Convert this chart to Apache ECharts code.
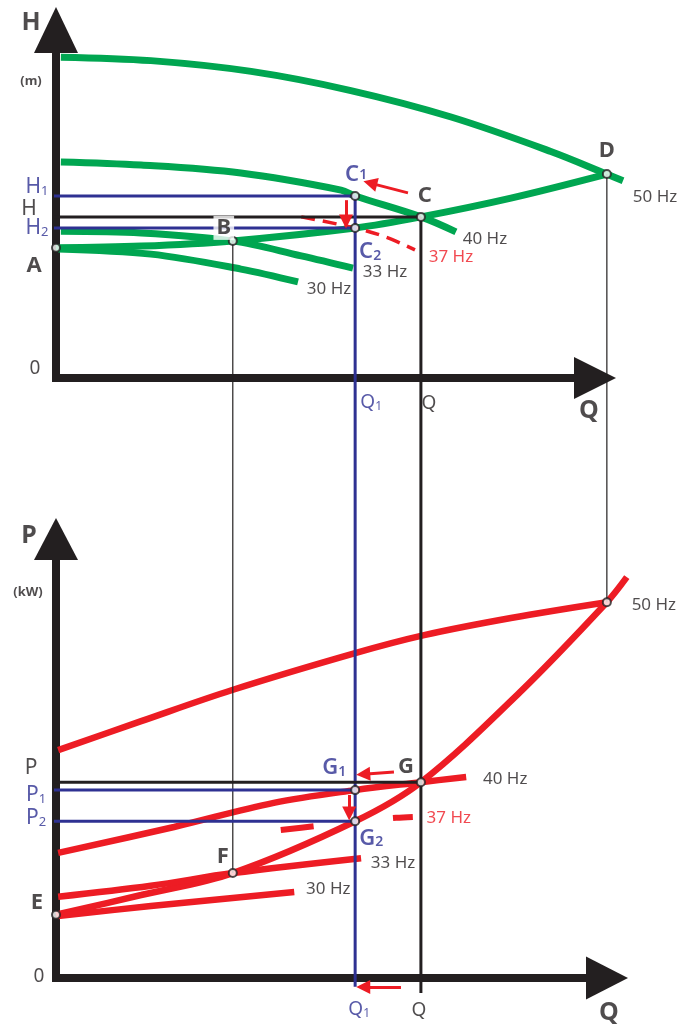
<!DOCTYPE html>
<html>
<head>
<meta charset="utf-8">
<title>Pump curves at variable speed</title>
<script src="https://cdn.jsdelivr.net/npm/echarts@6/dist/echarts.min.js"></script>
<style>
  html, body { margin: 0; padding: 0; background: #fff; }
  #main { width: 682px; height: 1027px; }
</style>
</head>
<body>
<div id="main"></div>
<script>
// Q-H curves (top) and Q-P curves (bottom) of one pump at 50/40/37/33/30 Hz.
// No scale on the original, so Q, H and P all run 0..100 along their axis.
var GREEN = '#00a651', RED = '#ed1c24', BLUE = '#2e3192', INK = '#231f20';
var FONT = 'Noto Sans';

// ---- top chart, head H ----
var head50 = [[0.9, 92.2], [17.6, 91.2], [36.2, 88.1], [54.7, 82.6], [73.3, 75.0], [91.8, 65.1], [102.2, 58.6], [105.2, 56.7]];
var head40 = [[0.9, 62.1], [15.8, 61.2], [34.3, 58.9], [52.9, 54.0], [55.5, 52.3], [67.7, 46.3], [74.2, 42.0]];
var head37 = [[45.5, 46.3], [55.5, 43.1], [61.2, 40.5], [66.6, 36.8]];
var head33 = [[0.9, 42.2], [15.8, 41.7], [32.8, 39.4], [45.5, 35.1], [55.1, 31.6]];
var head30 = [[0.4, 37.1], [17.6, 35.6], [34.3, 31.3], [44.9, 27.6]];
var system = [[0, 37.4], [15.8, 37.9], [32.8, 39.4], [55.5, 43.1], [67.7, 46.3], [84.4, 51.7], [102.2, 58.6]];

// ---- bottom chart, power P ----
var power50 = [[0.4, 51.9], [15.8, 58.5], [32.7, 65.6], [55.5, 74.0], [68.3, 78.1], [84.4, 82.0], [102.2, 85.6]];
var powerSys = [[0, 14.4], [15.8, 18.9], [32.8, 23.9], [55.5, 35.7], [67.7, 44.6], [85.9, 64.9], [102.2, 85.6], [105.9, 91.3]];
var power40 = [[0.4, 28.5], [21.9, 34.4], [40.4, 39.9], [55.5, 42.8], [67.7, 44.6], [76.1, 45.8]];
var power37 = [[41.7, 33.7], [47.9, 34.6], [55.5, 35.7], [63.1, 36.5], [66.2, 36.7]];
var power33 = [[0.4, 18.5], [17.6, 21.0], [32.8, 23.9], [56.6, 27.3]];
var power30 = [[0.4, 14.1], [17.6, 16.4], [44.2, 19.6]];

// flows of the guide lines, head levels, power levels
var Q1 = 55.5, Qop = 67.7, QB = 32.8, QD = 102.2;
var H1 = 52.3, Hop = 46.3, H2 = 43.1;
var Pop = 44.6, P1 = 42.8, P2 = 35.7;

// marked points
var ptA = [0, 37.4], ptB = [QB, 39.4], ptC1 = [Q1, H1], ptC = [Qop, Hop], ptC2 = [Q1, H2], ptD = [QD, 58.6];
var ptE = [0, 14.4], ptF = [QB, 23.9], ptG1 = [Q1, P1], ptG = [Qop, Pop], ptG2 = [Q1, P2], pt50 = [QD, 85.6];

// the top Q axis expressed on the bottom P scale (guides run up to it)
var TOP_AXIS_P = 136.7;

// red arrows
var arrowsTop = [[[65.3, 53.2], [58.3, 56.0]], [[53.8, 51.1], [53.8, 45.0]]];
var arrowsBottom = [[[62.7, 46.9], [57.0, 46.4]], [[54.4, 41.7], [54.4, 37.5]], [[64.0, -2.05], [57.0, -2.05]]];

// curves run a bit past the arrow end of the Q axis, so they sit in a
// wider plot grid (Q up to 110) laid over the grid that draws the axes
var AXIS_W = 539, PLOT_QMAX = 110;

function last(a) { return a[a.length - 1]; }

var RICH = {
  tt: { fontFamily: FONT, fontSize: 25, fontWeight: 'bold', color: INK },
  un: { fontFamily: FONT, fontSize: 13, fontWeight: 'bold', color: INK },
  nu: { fontFamily: FONT, fontSize: 19, color: INK },
  dk: { fontFamily: FONT, fontSize: 22, fontWeight: 'bold', color: INK },
  lv: { fontFamily: FONT, fontSize: 21, color: INK },
  bl: { fontFamily: FONT, fontSize: 21, color: BLUE },
  bls: { fontFamily: FONT, fontSize: 13, color: BLUE, verticalAlign: 'bottom' },
  bv: { fontFamily: FONT, fontSize: 22, fontWeight: 600, color: BLUE },
  bvs: { fontFamily: FONT, fontSize: 14, fontWeight: 600, color: BLUE, verticalAlign: 'bottom' },
  bvm: { fontFamily: FONT, fontSize: 14, fontWeight: 600, color: BLUE },
  hz: { fontFamily: FONT, fontSize: 17, color: INK },
  hr: { fontFamily: FONT, fontSize: 17, color: RED },
  qq: { fontFamily: FONT, fontSize: 19, color: INK },
  qb: { fontFamily: FONT, fontSize: 19, color: BLUE },
  qbs: { fontFamily: FONT, fontSize: 12, color: BLUE, verticalAlign: 'bottom' }
};

function curve(grid, data, color, width, dash) {
  return {
    type: 'line', xAxisIndex: grid, yAxisIndex: grid, data: data,
    smooth: 0.35, symbol: 'none', showSymbol: false, clip: false, silent: true, z: 2,
    lineStyle: { color: color, width: width, type: dash || 'solid' }
  };
}

function seg(grid, a, b, color, width) {
  return {
    type: 'line', xAxisIndex: grid, yAxisIndex: grid, data: [a, b],
    symbol: 'none', showSymbol: false, clip: false, silent: true, z: 3,
    lineStyle: { color: color, width: width }
  };
}

function arrows(grid, list) {
  return {
    type: 'lines', coordinateSystem: 'cartesian2d', xAxisIndex: grid, yAxisIndex: grid,
    clip: false, silent: true, z: 4,
    symbol: ['none', 'triangle'], symbolSize: [12, 14],
    lineStyle: { color: RED, width: 3, opacity: 1 },
    data: list.map(function (c) { return { coords: c }; })
  };
}

function markers(grid, pts) {
  return {
    type: 'scatter', xAxisIndex: grid, yAxisIndex: grid, data: pts, clip: false, silent: true, z: 5,
    symbol: 'circle', symbolSize: 8,
    itemStyle: { color: '#fff', borderColor: INK, borderWidth: 2 }
  };
}

// [anchor, text, dx, dy, white background]
function labels(grid, items) {
  return {
    type: 'scatter', xAxisIndex: grid, yAxisIndex: grid, symbolSize: 0, clip: false, silent: true, z: 6,
    label: { show: true, position: 'inside', rich: RICH },
    data: items.map(function (it) {
      var lab = { show: true, position: 'inside', formatter: it[1], offset: [it[2], it[3]] };
      if (it[4]) { lab.backgroundColor = '#fff'; lab.padding = [1, 3]; }
      return { value: it[0], label: lab };
    })
  };
}

var topLabels = [
  [[0, 100], '{tt|H}', -25, -7],
  [[0, 100], '{un|(m)}', -25, 51],
  [[0, 0], '{nu|0}', -21, -9],
  [ptA, '{dk|A}', -22, 18],
  [[0, H1], '{bl|H}{bls|1}', -19, -9],
  [[0, Hop], '{lv|H}', -27, -8],
  [[0, H2], '{bl|H}{bls|2}', -19, 0],
  [ptB, '{dk|B}', -9, -13, true],
  [ptC1, '{bv|C}{bvm|1}', 1, -21],
  [ptC, '{dk|C}', 4, -21],
  [ptC2, '{bv|C}{bvs|2}', 15, 24],
  [ptD, '{dk|D}', 0, -23],
  [last(head50), '{hz|50 Hz}', 32, 16],
  [last(head40), '{hz|40 Hz}', 29, 7],
  [last(head37), '{hr|37 Hz}', 36, 7],
  [last(head33), '{hz|33 Hz}', 32, 4],
  [last(head30), '{hz|30 Hz}', 31, 7],
  [[Q1, 0], '{qb|Q}{qbs|1}', 16, 25],
  [[Qop, 0], '{qq|Q}', 8, 26],
  [[100, 0], '{tt|Q}', -6, 33]
];

var bottomLabels = [
  [[0, 100], '{tt|P}', -27, -3],
  [[0, 100], '{un|(kW)}', -28, 53],
  [[0, 0], '{nu|0}', -17, -1],
  [ptE, '{dk|E}', -19, -12],
  [[0, Pop], '{lv|P}', -25, -14],
  [[0, P1], '{bl|P}{bls|1}', -20, 5],
  [[0, P2], '{bl|P}{bls|2}', -20, -3],
  [ptF, '{dk|F}', -10, -16],
  [ptG1, '{bv|G}{bvs|1}', -21, -22],
  [ptG, '{dk|G}', -15, -15],
  [ptG2, '{bv|G}{bvs|2}', 16, 17],
  [pt50, '{hz|50 Hz}', 47, 3],
  [last(power40), '{hz|40 Hz}', 39, 2],
  [last(power37), '{hr|37 Hz}', 36, 1],
  [last(power33), '{hz|33 Hz}', 32, 5],
  [last(power30), '{hz|30 Hz}', 34, -3],
  [[Q1, 0], '{qb|Q}{qbs|1}', 4, 32],
  [[Qop, 0], '{qq|Q}', -2, 33],
  [[100, 0], '{tt|Q}', 14, 35]
];

// axis that draws the black arrow
function arrowAxis(grid, size, offset) {
  return {
    gridIndex: grid, type: 'value', min: 0, max: 100,
    axisLine: {
      show: true, onZero: false, symbol: ['none', 'triangle'], symbolSize: size, symbolOffset: [0, offset || 0],
      lineStyle: { color: INK, width: 8, cap: 'square' }
    },
    axisTick: { show: false }, axisLabel: { show: false }, splitLine: { show: false }
  };
}

// hidden axis that only carries the data
function plotAxis(grid, max) {
  return { gridIndex: grid, type: 'value', min: 0, max: max, show: false, splitLine: { show: false } };
}

var chart = echarts.init(document.getElementById('main'));
chart.setOption({
  animation: false,
  backgroundColor: '#fff',
  textStyle: { fontFamily: FONT },
  grid: [
    { left: 56, top: 30, width: AXIS_W * PLOT_QMAX / 100, height: 348, outerBoundsMode: 'none' },
    { left: 56, top: 539, width: AXIS_W * PLOT_QMAX / 100, height: 439, outerBoundsMode: 'none' },
    { left: 56, top: 30, width: AXIS_W, height: 348, outerBoundsMode: 'none' },
    { left: 56, top: 539, width: AXIS_W, height: 439, outerBoundsMode: 'none' }
  ],
  xAxis: [
    plotAxis(0, PLOT_QMAX), plotAxis(1, PLOT_QMAX),
    arrowAxis(2, [42, 42]), arrowAxis(3, [43, 42], 12)
  ],
  yAxis: [
    plotAxis(0, 100), plotAxis(1, 100),
    arrowAxis(2, [44, 46]), arrowAxis(3, [44, 42])
  ],
  series: [
    // top
    curve(0, head50, GREEN, 7),
    curve(0, head40, GREEN, 7),
    curve(0, head33, GREEN, 7),
    curve(0, head30, GREEN, 7),
    curve(0, system, GREEN, 7),
    curve(0, head37, RED, 3.5, [14, 8]),
    seg(0, [-1.1, H1], ptC1, BLUE, 3),
    seg(0, [-1.3, Hop], ptC, INK, 3),
    seg(0, [-1.1, H2], ptC2, BLUE, 3),
    seg(0, ptC1, [Q1, 0], BLUE, 3),
    seg(0, ptC, [Qop, 0], INK, 3),
    seg(0, ptB, [QB, 0], INK, 1.2),
    seg(0, ptD, [QD, 0], INK, 1.2),
    arrows(0, arrowsTop),
    markers(0, [ptA, ptB, ptC1, ptC2, ptC, ptD]),
    labels(0, topLabels),
    // bottom
    curve(1, power50, RED, 6.5),
    curve(1, powerSys, RED, 6.5),
    curve(1, power40, RED, 6.5),
    curve(1, power33, RED, 6.5),
    curve(1, power30, RED, 6.5),
    curve(1, power37, RED, 6, [33, 80]),
    seg(1, [Q1, TOP_AXIS_P], [Q1, -2.0], BLUE, 3),
    seg(1, [Qop, TOP_AXIS_P], [Qop, -3.4], INK, 3),
    seg(1, [QB, TOP_AXIS_P], ptF, INK, 1.2),
    seg(1, [QD, TOP_AXIS_P], pt50, INK, 1.2),
    seg(1, [-1.3, Pop], ptG, INK, 3),
    seg(1, [-1.1, P1], ptG1, BLUE, 3),
    seg(1, [-1.1, P2], ptG2, BLUE, 3),
    arrows(1, arrowsBottom),
    markers(1, [ptE, ptF, ptG1, ptG2, ptG, pt50]),
    labels(1, bottomLabels)
  ]
});
</script>
</body>
</html>
